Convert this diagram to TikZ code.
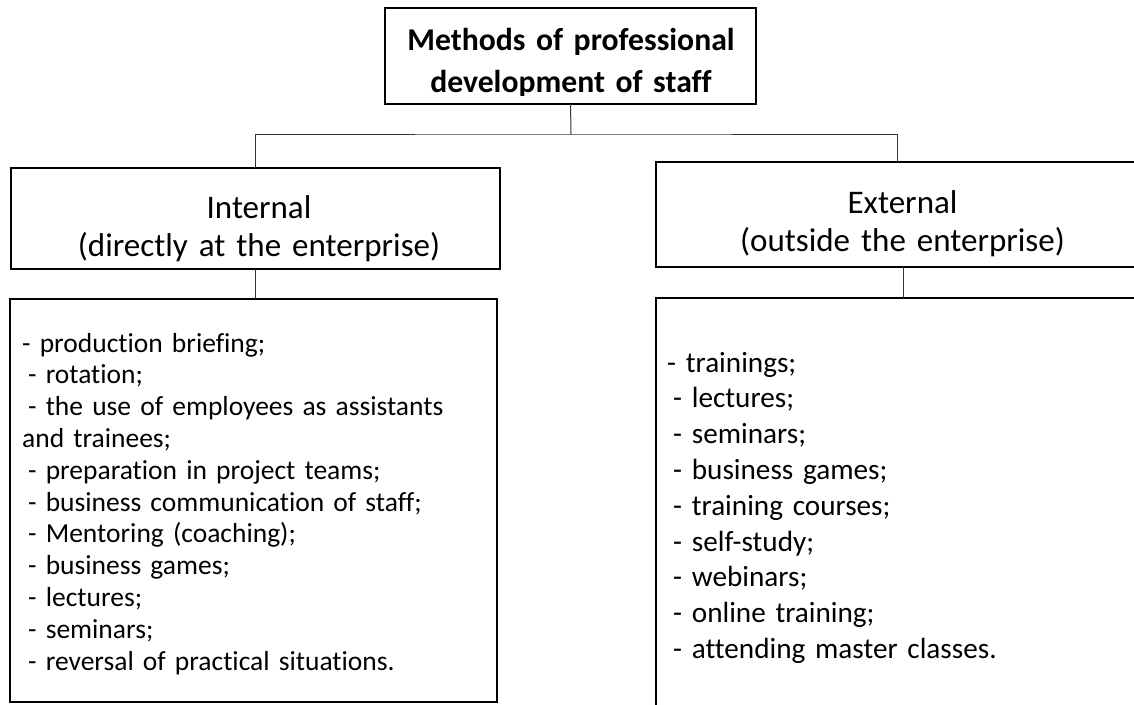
\documentclass[tikz,border=0pt]{standalone}
\usepackage{fontspec}
\setmainfont{Carlito}[Ligatures=NoCommon]
\begin{document}
\begin{tikzpicture}[x=1pt,y=-1pt,
  box/.style={draw=black, line width=2pt, inner sep=0pt, outer sep=0pt, anchor=north west},
  conn/.style={draw=black!80, line width=1pt},
  titletext/.style={anchor=base, text width=420pt, align=center, inner sep=0pt, font=\fontsize{31.7}{42}\selectfont\bfseries},
  labeltext/.style={anchor=base, text width=480pt, align=center, inner sep=0pt, font=\fontsize{33}{38.5}\selectfont},
  lefttext/.style={anchor=base west, text width=470pt, align=left, inner sep=0pt, font=\fontsize{27.5}{31.8}\selectfont},
  righttext/.style={anchor=base west, text width=470pt, align=left, inner sep=0pt, font=\fontsize{29.2}{35.8}\selectfont}]
\useasboundingbox (0,0) rectangle (1134,704);
\clip (0,0) rectangle (1134,704);
\fill[white] (0,0) rectangle (1134,704);

% boxes
\node[box, minimum width=371pt, minimum height=96pt] (top) at (385,8) {};
\node[box, minimum width=489pt, minimum height=101pt] (int) at (11,168) {};
\node[box, minimum width=494pt, minimum height=105pt] (ext) at (656,162) {};
\node[box, minimum width=487pt, minimum height=403pt] (intlist) at (10,299) {};
\node[box, minimum width=494pt, minimum height=420pt] (extlist) at (656,298) {};

% texts
\begin{scope}
\clip (385,8) rectangle (756,95);
\node[titletext] (toptext) at (571,50) {Methods of professional\\development of staff};
\end{scope}
\node[labeltext] (intlabel) at (259,218) {Internal\\(directly at the enterprise)};
\node[labeltext] (extlabel) at (902.5,213) {External\\(outside the enterprise)};
\node[lefttext] (intitems) at (22,352) {- production briefing;\\
\hspace*{6pt}- rotation;\\
\hspace*{6pt}- the use of employees as assistants\\
and trainees;\\
\hspace*{6pt}- preparation in project teams;\\
\hspace*{6pt}- business communication of staff;\\
\hspace*{6pt}- Mentoring (coaching);\\
\hspace*{6pt}- business games;\\
\hspace*{6pt}- lectures;\\
\hspace*{6pt}- seminars;\\
\hspace*{6pt}- reversal of practical situations.};
\node[righttext] (extitems) at (667,372) {- trainings;\\
\hspace*{6pt}- lectures;\\
\hspace*{6pt}- seminars;\\
\hspace*{6pt}- business games;\\
\hspace*{6pt}- training courses;\\
\hspace*{6pt}- self-study;\\
\hspace*{6pt}- webinars;\\
\hspace*{6pt}- online training;\\
\hspace*{6pt}- attending master classes.};

% connectors
\coordinate (hub) at (571,134);
\coordinate (extin) at (897,162);
\draw[conn] (top.south) -- (hub);
\draw[conn] (int.north) |- (hub) -| (extin);
\draw[conn] (int.south) -- (int.south |- intlist.north);
\draw[conn] (ext.south) -- (ext.south |- extlist.north);
\end{tikzpicture}
\end{document}
